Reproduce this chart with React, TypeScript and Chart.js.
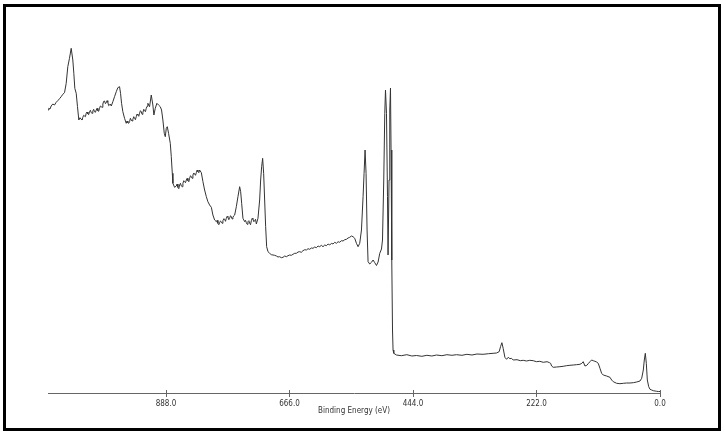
import React, { useEffect, useRef } from "react";
import { Chart, registerables } from "chart.js";

Chart.register(...registerables);

// ---- axis data ----
const xTickValues = [888, 666, 444, 222, 0];
const xAxisTitle = "Binding Energy (eV)";
const energyMin = 0;
const energyMax = 1100;
const intensityMax = 350; // arbitrary units

// ---- spectrum, [binding energy (eV), intensity (a.u.)] ----
const augerRegion: [number, number][] = [
  [1100, 283], [1098.6, 284.7], [1096.4, 284], [1094.3, 287], [1091.4, 289], [1088.3, 288],
  [1085.3, 290.7], [1082.4, 292.3], [1079.3, 294.3], [1076.3, 296.3], [1073.4, 298.7],
  [1070.3, 300.3], [1067.3, 309.7], [1064.4, 326.3], [1061.4, 334.7], [1058.3, 344.7],
  [1055.4, 333], [1053.6, 319.7], [1051.8, 304.7], [1049.3, 299.7], [1047, 286.3],
  [1044.6, 273], [1042.5, 275.3], [1040.3, 273.7], [1038.9, 273], [1037.4, 275.7],
  [1035.9, 277.7], [1034.4, 277], [1032.8, 276.3], [1031.3, 279.7], [1029.9, 281],
  [1028.4, 279], [1026.9, 278.3], [1025.4, 281.3], [1023.8, 282.7], [1022.3, 280.3],
  [1020.9, 279.7], [1019.4, 282], [1017.9, 283.7], [1016.4, 281.3], [1014.8, 280.7],
  [1013.3, 283], [1011.9, 284.7], [1010.4, 282.3], [1008.9, 281.7], [1007.4, 284.7],
  [1005.8, 287], [1004.3, 286.3], [1002.9, 285.7], [1001.4, 289], [999.9, 291.7],
  [998.4, 292], [996.8, 289.3], [995.3, 290.3], [993.9, 292.3], [992.5, 290.7],
  [990.9, 287.3], [989.4, 288], [987.8, 289], [986.3, 287], [983.4, 291.3],
  [980.4, 296.3], [977.3, 301.3], [974.5, 305.3], [971.4, 306.3], [969.6, 299.7],
  [967.8, 289.7], [965.5, 281.3], [962.4, 274.7], [959.4, 269.7], [957.9, 272],
  [956.5, 270.3], [954.9, 269.7], [953.4, 271.3], [951.9, 274.7], [950.4, 273],
  [948.9, 272], [947.5, 273.7], [945.9, 276.3], [944.4, 274.7], [942.9, 273.3],
  [941.4, 276.3], [939.9, 279], [938.5, 278], [936.9, 276.7], [935.4, 279.7],
  [933.9, 282.3], [932.4, 281.3], [930.9, 278.7], [929.5, 280.3], [927.9, 283.7],
  [926.4, 282.3], [924.9, 281.3], [923.4, 284.7], [921.9, 286.7], [920.5, 289.7],
  [917.4, 286.3], [914.4, 298], [911.5, 288], [909.7, 278], [907.2, 284.7],
  [904.3, 289.7], [901.3, 288], [898.2, 286.3], [895.9, 283],
];

const sn3sRegion: [number, number][] = [
  [893.5, 273], [891, 259.7], [889.2, 256.3], [887.4, 264.7], [885.6, 266.3], [883.3, 259.7],
  [880.2, 249.7], [878.4, 236.3], [876.6, 219.7], [875.5, 209.7], [872.5, 205.7],
  [869.4, 207], [867.9, 209], [866.5, 205.7], [864.9, 204.3], [863.5, 208],
  [861.9, 209.7], [860.4, 207], [858.9, 206.3], [857.5, 209.7], [855.9, 212.3],
  [854.5, 211.3], [852.9, 210.3], [851.4, 213], [849.9, 214.7], [848.5, 212.3],
  [846.9, 211.3], [845.5, 214.7], [843.9, 217.3], [842.4, 216.3], [840.9, 214.7],
  [839.5, 218], [837.9, 220], [836.5, 219], [834.9, 217.7], [833.4, 220.3],
  [831.9, 223], [830.5, 221.3], [828.9, 220.3], [827.5, 223], [824.4, 220.3],
  [821.5, 211.3], [818.5, 203], [815.4, 196.3], [812.6, 191.3], [809.5, 188],
  [806.4, 185.7], [803.6, 178], [800.5, 173], [797.4, 171.3], [796, 172.7],
  [794.6, 169.7], [793, 168.3], [791.5, 170.3], [790, 172], [788.5, 171.3],
  [787, 169.7], [785.6, 172.3], [784, 174.3], [782.5, 173.7], [781, 171.7],
  [779.5, 174.7], [778, 176.7], [776.6, 175.7], [775, 173.3], [773.5, 174.7],
  [772, 177.3], [770.5, 176.3], [769, 174], [767.6, 175.7], [766, 177.3], [764.5, 178],
];

const sn3pRegion: [number, number][] = [
  [761.5, 186.3], [758.6, 196.3], [755.5, 206.3], [753.7, 201.3], [751.9, 189.7],
  [749.6, 174.7], [746.5, 171.3], [745, 172.7], [743.5, 170.3], [742, 168.7],
  [740.6, 171.3], [739, 172.3], [737.5, 169.7], [736, 168.3], [734.5, 172.3],
  [733, 174.7], [731.6, 173.7], [730, 171.3], [728.6, 172.3], [727, 173.7],
  [725.5, 169], [722.6, 174.7],
  [719.6, 193], [717.8, 213], [716, 226.3], [714.2, 234.7], [712.4, 219.7], [710.6, 193],
  [708.8, 166.3], [707, 146.3], [704.6, 141.3], [701.6, 139.7], [698.6, 138.3],
  [695.6, 138], [692.5, 137.7], [689.5, 137], [686.6, 136], [683.6, 136.3], [680.6, 135.3],
  [677.6, 135.7], [674.5, 137], [671.5, 136.3], [668.6, 137.3], [665.6, 138],
  [662.6, 137.7], [659.7, 138.7], [656.6, 139.7], [653.6, 139.7], [650.6, 141],
  [647.6, 141.3], [644.7, 140.7], [641.7, 142.3], [638.6, 143.3], [635.6, 143],
  [632.6, 144.3], [629.6, 143.7], [626.7, 145], [623.7, 144.7], [620.6, 146],
  [617.6, 145.3], [614.6, 147], [611.6, 146.3], [608.7, 147.7], [605.7, 146.3],
  [602.6, 148], [599.6, 147.3], [596.6, 149], [593.6, 148], [590.7, 149.7], [587.7, 149],
  [584.6, 150.7], [581.6, 149.7], [578.6, 151.3], [575.6, 150.7], [572.7, 152.3],
  [569.7, 152], [566.6, 153.3], [563.6, 153.7], [560.7, 155], [557.7, 155.7],
];

const o1sRegion: [number, number][] = [
  [554.6, 157], [551.7, 156.3], [548.7, 154.7], [545.6, 149.7], [542.7, 146.3],
  [539.7, 149.7], [536.6, 163], [533.7, 196.3], [531.9, 219.7], [530.1, 243],
  [528.3, 219.7], [526.5, 163], [524.7, 131.3], [521.7, 129], [518.6, 130.7],
  [515.7, 133], [512.7, 130.3], [509.6, 127.5], [506.7, 131], [503.7, 139.7],
  [500.6, 144],
];

const sn3dRegion: [number, number][] = [
  [498.8, 153], [496.5, 213], [494.7, 279.7], [493.4, 303], [491.6, 279.7], [489.8, 196.3],
  [488.8, 138], [487, 213], [485.7, 283], [484.4, 305], [483.4, 243], [482.1, 133],
  [480.8, 63], [479.8, 43], [478.5, 39.7], [473.7, 38], [465, 37.3], [455, 38.3],
  [446, 37], [437.7, 37.5], [428, 36.7], [419, 37.7], [410, 37], [401.7, 38], [392, 37.3],
  [383, 38.3], [374, 37.7], [365.7, 38.3], [356, 37.7], [347, 38.7], [338, 38],
  [329, 39], [318, 38.7], [308, 39.3], [300, 39.7],
];

const c1sRegion: [number, number][] = [
  [293.8, 40], [289.1, 41.3], [286.6, 46.3], [284.2, 50.3], [281.9, 44.7], [278.8, 35.7],
  [275.8, 33.7], [272.8, 35.7], [269.8, 34.3], [266.9, 34.7], [263.9, 33], [257, 33.3],
  [251, 32.3], [245.9, 32.7], [240, 32], [234, 32.7], [227.9, 32.3], [222, 31.3],
  [216, 31.7], [209.9, 30.7], [203, 31.3],
];

const valenceRegion: [number, number][] = [
  [198.5, 30.3], [196.6, 29.7], [194.8, 27], [191.9, 25.7], [186, 26], [179.9, 26.3],
  [174, 26.7], [168, 27.3], [161.9, 27.7], [156, 28], [150, 28.3], [143.9, 28.7],
  [140.5, 29.7], [138, 31.3], [134.9, 27], [131.5, 27.7], [128.5, 29.7], [125.9, 31.3],
  [122.9, 33], [119.9, 32.3], [116.9, 31.7], [114, 31], [111, 29.7], [107.9, 24.7],
  [104.9, 19.7], [102, 18], [96, 17], [89.9, 15.7], [86.9, 13], [84, 11.3], [77.9, 9.7],
  [72, 9.3], [66, 9.7], [59.9, 10], [54, 10], [48, 10.3], [42, 11], [36, 12],
  [32.9, 14.7], [30, 23], [28.2, 33], [26.4, 39.7], [24.6, 29.7], [22.8, 13],
  [20.3, 6.3], [18, 3.7], [15, 3], [12.1, 2.3], [8.9, 2], [5.9, 1.7], [3, 1.5], [0, 1.5],
];

const FONT = "'Liberation Sans Narrow', 'DejaVu Sans Condensed', 'Liberation Sans', Arial, sans-serif";

const crossTicks = {
  id: "crossTicks",
  afterDraw(chart: any) {
    const s = chart.scales.x;
    const ctx = chart.ctx;
    const y = Math.round(s.top);
    ctx.save();
    ctx.strokeStyle = "#666";
    ctx.lineWidth = 1;
    ctx.beginPath();
    s.ticks.forEach((t: any) => {
      const px = Math.round(s.getPixelForValue(t.value)) + 0.5;
      ctx.moveTo(px, y - 3);
      ctx.lineTo(px, y + 4);
    });
    ctx.stroke();
    ctx.restore();
  },
};

export default function App() {
  const ref = useRef<HTMLCanvasElement>(null);

  useEffect(() => {
    if (!ref.current) return;
    const points = [
      ...augerRegion,
      ...sn3sRegion,
      ...sn3pRegion,
      ...o1sRegion,
      ...sn3dRegion,
      ...c1sRegion,
      ...valenceRegion,
    ]
      .sort((a, b) => b[0] - a[0])
      .map(([x, y]) => ({ x, y }));

    const chart = new Chart(ref.current, {
      type: "line",
      data: {
        datasets: [
          {
            data: points,
            borderColor: "#333",
            borderWidth: 1,
            pointRadius: 0,
            tension: 0,
            fill: false,
          },
        ],
      },
      options: {
        animation: false,
        responsive: false,
        devicePixelRatio: 1,
        events: [],
        layout: { padding: { top: 43, left: 48, right: 66, bottom: 0 } },
        plugins: { legend: { display: false }, tooltip: { enabled: false } },
        scales: {
          x: {
            type: "linear",
            reverse: true,
            min: energyMin,
            max: energyMax,
            afterBuildTicks: (scale: any) => {
              scale.ticks = xTickValues.map((v) => ({ value: v }));
            },
            afterFit: (scale: any) => {
              scale.height = 44;
            },
            grid: { display: false, drawTicks: false },
            border: { display: true, color: "#666", width: 1 },
            ticks: {
              padding: 6,
              maxRotation: 0,
              autoSkip: false,
              color: "#333",
              font: { family: FONT, size: 8 },
              callback: (v: any) => Number(v).toFixed(1),
            },
            title: {
              display: true,
              text: xAxisTitle,
              color: "#333",
              font: { family: FONT, size: 8 },
              padding: { top: 0, bottom: 21 },
            },
          },
          y: {
            display: false,
            min: 0,
            max: intensityMax,
          },
        },
      },
      plugins: [crossTicks],
    });
    return () => chart.destroy();
  }, []);

  return (
    <div style={{ position: "absolute", left: 0, top: 0, width: 726, height: 437, background: "#fff" }}>
      <canvas ref={ref} width={726} height={437} style={{ display: "block" }} />
      <div
        style={{
          position: "absolute",
          left: 3,
          top: 4,
          width: 718,
          height: 427,
          border: "3px solid #000",
          boxSizing: "border-box",
          pointerEvents: "none",
        }}
      />
    </div>
  );
}
